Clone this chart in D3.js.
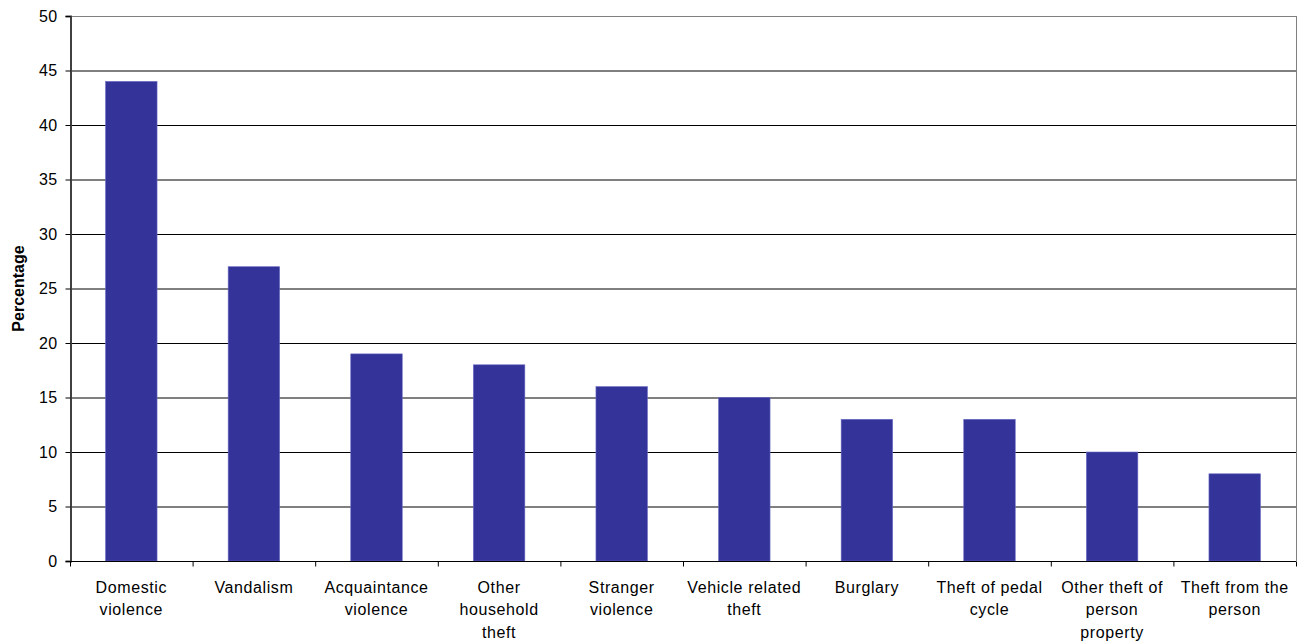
<!DOCTYPE html>
<html>
<head>
<meta charset="utf-8">
<script src="https://cdn.jsdelivr.net/npm/d3@7"></script>
<style>
  body { margin: 0; background: #fff; }
  svg text { font-family: "Liberation Sans", Arial, sans-serif; fill: #000; }
</style>
</head>
<body>
<div id="chart"></div>
<script>
// crime categories (label lines) and percentages
const categories = [
  ["Domestic", "violence"],
  ["Vandalism"],
  ["Acquaintance", "violence"],
  ["Other", "household", "theft"],
  ["Stranger", "violence"],
  ["Vehicle related", "theft"],
  ["Burglary"],
  ["Theft of pedal", "cycle"],
  ["Other theft of", "person", "property"],
  ["Theft from the", "person"]
];
const values = [44, 27, 19, 18, 16, 15, 13, 13, 10, 8];
const yTicks = [0, 5, 10, 15, 20, 25, 30, 35, 40, 45, 50];

const width = 1299, height = 642;
const margin = { top: 16, right: 3, bottom: 81, left: 70 };
const plotRight = width - margin.right;
const plotBottom = height - margin.bottom;

const svg = d3.select("#chart").append("svg")
  .attr("width", width)
  .attr("height", height);

const keys = categories.map((c, i) => i);

const x = d3.scaleBand()
  .domain(keys)
  .range([margin.left, plotRight])
  .paddingInner(0.58)
  .paddingOuter(0.29);

const xCat = d3.scaleBand()
  .domain(keys)
  .range([margin.left, plotRight]);

const y = d3.scaleLinear()
  .domain([0, 50])
  .range([plotBottom, margin.top]);

// gridlines
svg.append("g")
  .selectAll("line")
  .data(yTicks.filter(t => t > 0))
  .join("line")
  .attr("x1", margin.left)
  .attr("x2", plotRight)
  .attr("y1", d => y(d) + 0.5)
  .attr("y2", d => y(d) + 0.5)
  .attr("stroke", d => d === 50 ? "#808080" : "#000")
  .attr("stroke-width", 1);

// right border
svg.append("line")
  .attr("x1", plotRight + 0.5).attr("x2", plotRight + 0.5)
  .attr("y1", margin.top).attr("y2", plotBottom)
  .attr("stroke", "#808080");

// bars
svg.append("g")
  .selectAll("rect")
  .data(values)
  .join("rect")
  .attr("x", (d, i) => x(i))
  .attr("y", d => y(d))
  .attr("width", x.bandwidth())
  .attr("height", d => y(0) - y(d))
  .attr("fill", "#333399")
  .attr("stroke", "#6b6bc4")
  .attr("stroke-width", 0.6);

// y axis
const yAxis = svg.append("g")
  .attr("transform", `translate(${margin.left + 0.5},0)`)
  .call(d3.axisLeft(y).tickValues(yTicks).tickSize(5).tickPadding(8));
yAxis.select(".domain").attr("stroke", "#404040").attr("stroke-width", 2);
yAxis.selectAll(".tick line").attr("stroke", "#000");
yAxis.selectAll(".tick text")
  .style("font-size", "16px")
  .style("letter-spacing", "0.4px")
  .style("font-family", "'Liberation Sans', Arial, sans-serif");

// x axis
const xAxis = svg.append("g")
  .attr("transform", `translate(0,${plotBottom + 0.5})`);
xAxis.append("line")
  .attr("x1", margin.left).attr("x2", plotRight)
  .attr("stroke", "#000");
xAxis.selectAll(".sep")
  .data(keys.concat([keys.length]))
  .join("line")
  .attr("class", "sep")
  .attr("x1", d => (d < keys.length ? xCat(d) : plotRight) + 0.5)
  .attr("x2", d => (d < keys.length ? xCat(d) : plotRight) + 0.5)
  .attr("y1", 0).attr("y2", 5)
  .attr("stroke", "#000");

xAxis.selectAll(".lbl")
  .data(categories)
  .join("text")
  .attr("class", "lbl")
  .attr("text-anchor", "middle")
  .style("font-size", "16px")
  .style("letter-spacing", "0.6px")
  .each(function (lines, i) {
    const t = d3.select(this);
    lines.forEach((ln, j) => {
      t.append("tspan")
        .attr("x", xCat(i) + xCat.bandwidth() / 2)
        .attr("y", 31 + j * 22.5)
        .text(ln);
    });
  });

// axis title
svg.append("text")
  .attr("transform", `translate(24,${(margin.top + plotBottom) / 2}) rotate(-90)`)
  .attr("text-anchor", "middle")
  .style("font-size", "16px")
  .style("font-weight", "bold")
  .text("Percentage");
</script>
</body>
</html>
